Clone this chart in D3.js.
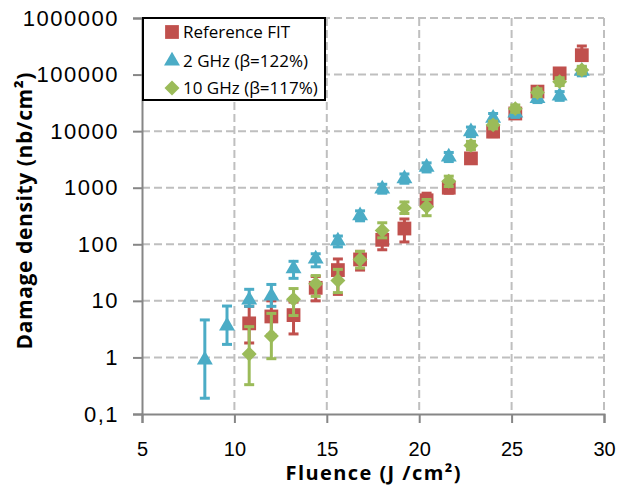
<!DOCTYPE html>
<html>
<head>
<meta charset="utf-8">
<script src="https://cdn.jsdelivr.net/npm/d3@7.9.0/dist/d3.min.js"></script>
<style>
  body { margin: 0; background: #fff; }
  svg { font-family: "Open Sans", sans-serif; }
</style>
</head>
<body>
<svg id="chart" width="619" height="487"></svg>
<script>
// fluence positions (J/cm2)
const xBlue = [8.4, 9.6, 10.8, 12.0, 13.2, 14.4, 15.6, 16.8, 18.0, 19.2, 20.4, 21.6, 22.8, 24.0, 25.2, 26.4, 27.6, 28.8];
const xRest = [10.8, 12.0, 13.2, 14.4, 15.6, 16.8, 18.0, 19.2, 20.4, 21.6, 22.8, 24.0, 25.2, 26.4, 27.6, 28.8];

// Reference FIT
const redVal  = [4.0, 5.3, 5.6, 17, 35, 54, 120, 190, 600, 1000, 3300, 9800, 20500, 50000, 105000, 220000];
const redLow  = [1.8, 2.5, 2.6, 10, 13, 35, 80, 110, 450, 800, 2700, 8000, 17500, 42000, 90000, 190000];
const redHigh = [8, 10, 9.5, 27, 55, 75, 170, 280, 800, 1250, 4000, 11500, 24000, 58000, 120000, 320000];

// 2 GHz
const blueVal  = [0.9, 3.6, 10.4, 12.2, 37, 55, 115, 320, 950, 1450, 2300, 3500, 9800, 17000, 21000, 38000, 42000, 115000];
const blueLow  = [0.19, 1.7, 8, 8, 25, 40, 90, 260, 800, 1200, 1900, 2900, 8000, 14000, 17500, 32000, 35000, 95000];
const blueHigh = [4.6, 8.1, 16, 19.5, 50, 68, 140, 390, 1150, 1750, 2750, 4200, 11800, 20500, 25000, 46000, 50000, 135000];

// 10 GHz
const greenVal  = [1.15, 2.4, 10.7, 20, 23, 54, 175, 440, 460, 1300, 5600, 12900, 25000, 48000, 75000, 120000];
const greenLow  = [0.33, 0.95, 5.5, 12, 14, 38, 130, 350, 320, 1050, 4700, 11000, 21500, 41000, 64000, 103000];
const greenHigh = [3.5, 6, 16.5, 28, 36, 75, 240, 560, 620, 1600, 6600, 15000, 29000, 56000, 88000, 140000];

const xTicks = [5, 10, 15, 20, 25, 30];
const yTicks = [0.1, 1, 10, 100, 1000, 10000, 100000, 1000000];
const yTickLabels = ["0,1", "1", "10", "100", "1000", "10000", "100000", "1000000"];

const series = [
  { name: "Reference FIT", color: "#C0504D", shape: "square", xs: xRest, v: redVal, lo: redLow, hi: redHigh },
  { name: "2 GHz (\u03B2=122%)", color: "#4BACC6", shape: "triangle", xs: xBlue, v: blueVal, lo: blueLow, hi: blueHigh },
  { name: "10 GHz (\u03B2=117%)", color: "#9BBB59", shape: "diamond", xs: xRest, v: greenVal, lo: greenLow, hi: greenHigh }
];

const svg = d3.select('#chart');
const plotL = 142, plotR = 604, plotT = 18, plotB = 414;

const x = d3.scaleLinear().domain([5, 30]).range([plotL, plotR]);
const y = d3.scaleLog().domain([0.1, 1e6]).range([plotB, plotT]);

// grid
const grid = svg.append('g');
grid.selectAll('line.v')
  .data(xTicks.slice(1))
  .join('line')
  .attr('x1', d => x(d)).attr('x2', d => x(d))
  .attr('y1', plotT).attr('y2', plotB)
  .attr('stroke', '#BFBFBF').attr('stroke-width', 2).attr('stroke-dasharray', '8,4');
grid.selectAll('line.h')
  .data(yTicks.slice(1))
  .join('line')
  .attr('x1', plotL).attr('x2', plotR)
  .attr('y1', d => y(d)).attr('y2', d => y(d))
  .attr('stroke', '#BFBFBF').attr('stroke-width', 2).attr('stroke-dasharray', '8,4');

// axes
const xAxis = svg.append('g')
  .attr('transform', `translate(0,${plotB})`)
  .call(d3.axisBottom(x).tickValues(xTicks).tickSize(9).tickPadding(19).tickFormat(d3.format('d')));
const yAxis = svg.append('g')
  .attr('transform', `translate(${plotL},0)`)
  .call(d3.axisLeft(y).tickValues(yTicks).tickSize(9).tickPadding(14)
    .tickFormat((d, i) => yTickLabels[i]));

[xAxis, yAxis].forEach(a => {
  a.select('.domain').attr('stroke', '#868686').attr('stroke-width', 2);
  a.selectAll('.tick line').attr('stroke', '#868686').attr('stroke-width', 2);
  a.selectAll('.tick text').attr('fill', '#000');
});
xAxis.selectAll('.tick text').attr('dy', '0.71em').style('font-size', '20px');
yAxis.selectAll('.tick text').style('font-size', '22px').style('letter-spacing', '1.5px');

// axis titles
svg.append('text')
  .attr('x', 373).attr('y', 480)
  .attr('text-anchor', 'middle')
  .attr('textLength', 175)
  .style('font-size', '20px').style('font-weight', 'bold')
  .text('Fluence (J /cm\u00B2)');
svg.append('text')
  .attr('transform', 'translate(32,211) rotate(-90)')
  .attr('text-anchor', 'middle')
  .attr('textLength', 277)
  .style('font-size', '21px').style('font-weight', 'bold')
  .text('Damage density (nb/cm\u00B2)');

function symbolPath(shape) {
  if (shape === 'square') return d3.symbol().type(d3.symbolSquare).size(190)();
  if (shape === 'triangle') return d3.symbol().type(d3.symbolTriangle).size(110)();
  return d3.symbol().type(d3.symbolSquare).size(112)();
}

// data series: error bars then markers
series.forEach(s => {
  const g = svg.append('g');
  const pts = s.v.map((v, i) => ({ x: s.xs[i], v, lo: s.lo[i], hi: s.hi[i] }));
  g.selectAll('line.stem')
    .data(pts).join('line')
    .attr('x1', d => x(d.x)).attr('x2', d => x(d.x))
    .attr('y1', d => y(d.lo)).attr('y2', d => y(d.hi))
    .attr('stroke', s.color).attr('stroke-width', 3);
  ['lo', 'hi'].forEach(k => {
    g.selectAll('line.cap' + k)
      .data(pts).join('line')
      .attr('class', 'cap' + k)
      .attr('x1', d => x(d.x) - 5).attr('x2', d => x(d.x) + 5)
      .attr('y1', d => y(d[k])).attr('y2', d => y(d[k]))
      .attr('stroke', s.color).attr('stroke-width', 3);
  });
  g.selectAll('path')
    .data(pts).join('path')
    .attr('d', symbolPath(s.shape))
    .attr('transform', d => `translate(${x(d.x)},${y(d.v)})` + (s.shape === 'diamond' ? ' rotate(45)' : ''))
    .attr('fill', s.color);
});

// legend
const legend = svg.append('g');
legend.append('rect')
  .attr('x', 143).attr('y', 18).attr('width', 182).attr('height', 82)
  .attr('fill', '#fff').attr('stroke', '#000').attr('stroke-width', 2);
const rows = [32, 61, 88];
series.forEach((s, i) => {
  legend.append('path')
    .attr('d', symbolPath(s.shape))
    .attr('transform', `translate(172,${rows[i]})` + (s.shape === 'diamond' ? ' rotate(45)' : ''))
    .attr('fill', s.color);
  legend.append('text')
    .attr('x', 183).attr('y', rows[i])
    .attr('dy', '0.35em')
    .style('font-size', '17px')
    .text(s.name);
});
</script>
</body>
</html>
